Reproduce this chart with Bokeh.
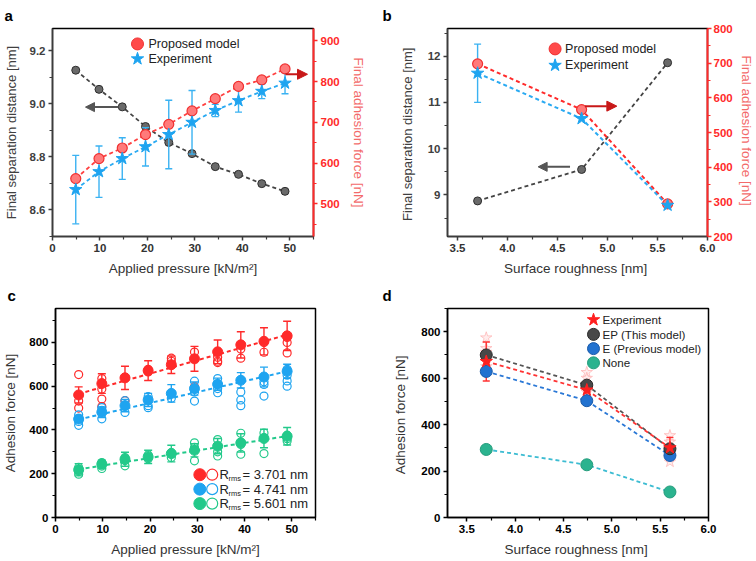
from bokeh.plotting import figure
from bokeh.models import (Range1d, LinearAxis, FixedTicker, PrintfTickFormatter,
                          Arrow, NormalHead)
from bokeh.layouts import column, row
from bokeh.embed import file_html
from bokeh.resources import INLINE
from bokeh.core.properties import value

FONT = "Liberation Sans"

# ---------------- data: panel a ----------------
a_pressure = [4.9, 9.8, 14.7, 19.6, 24.5, 29.4, 34.3, 39.2, 44.1, 49.0]
a_separation = [9.126, 9.054, 8.988, 8.914, 8.854, 8.812, 8.763, 8.734, 8.699, 8.670]
a_model = [562, 611, 637, 670, 695, 728, 758, 788, 804, 831]
a_exp = [535, 579, 611, 640, 670, 700, 729, 753, 776, 796]
a_exp_err = [84, 63, 51, 47, 84, 78, 15, 28, 18, 26]

# ---------------- data: panel b ----------------
b_rough = [3.701, 4.741, 5.601]
b_separation = [8.87, 9.55, 11.86]
b_model = [698, 566, 294]
b_exp = [671, 540, 290]
b_exp_err = [84, 0, 0]

# ---------------- data: panel c ----------------
c_pressure = [4.9, 9.8, 14.7, 19.6, 24.5, 29.4, 34.3, 39.2, 44.1, 49.0]
c_red_mean = [560, 612, 638, 671, 698, 725, 757, 789, 805, 830]
c_red_err = [37, 45, 53, 45, 40, 57, 54, 60, 62, 67]
c_red_ind = [[653, 532, 500, 452], [635, 587, 541, 507], [640, 534], [677, 665],
             [728, 714], [756, 598], [732, 714, 708], [770, 728], [800, 755],
             [823, 800, 752]]
c_blue_mean = [450, 481, 511, 537, 567, 589, 609, 627, 642, 668]
c_blue_err = [16, 24, 28, 30, 40, 30, 28, 35, 45, 32]
c_blue_ind = [[469, 439, 421], [502, 490, 451], [534, 480], [552, 511, 502],
              [567, 545], [623, 574, 532], [635, 589, 570], [574, 537, 511],
              [620, 608, 555], [677, 650, 624, 600]]
c_green_mean = [218, 244, 266, 277, 292, 307, 326, 341, 361, 371]
c_green_err = [28, 18, 32, 30, 38, 30, 35, 42, 42, 40]
c_green_ind = [[229, 210, 198], [251, 235, 224], [274, 260, 236], [286, 268],
               [296, 274], [341, 320, 259], [356, 300, 281], [385, 334, 289],
               [386, 364, 292], [376, 360, 349]]
c_red_fit = [565, 835]
c_blue_fit = [448, 668]
c_green_fit = [220, 372]
c_fit_x = [4.9, 49.0]

# ---------------- data: panel d ----------------
d_rough = [3.701, 4.741, 5.601]
d_exp = [672, 549, 300]
d_exp_err = [84, 25, 45]
d_exp_ind = [[774, 728, 712, 650], [625, 600, 575, 540], [353, 325, 260, 240]]
d_ep = [700, 570, 296]
d_e = [629, 503, 267]
d_none = [293, 227, 110]

# ---------------- ticks ----------------
p_ticks = [0, 10, 20, 30, 40, 50]
p_minor = [5, 15, 25, 35, 45, 55]
r_ticks = [3.5, 4.0, 4.5, 5.0, 5.5, 6.0]
r_minor = [3.25, 3.75, 4.25, 4.75, 5.25, 5.75]
a_sep_ticks = [8.6, 8.8, 9.0, 9.2]
a_sep_minor = [8.5, 8.7, 8.9, 9.1]
a_force_ticks = [500, 600, 700, 800, 900]
a_force_minor = [450, 550, 650, 750, 850]
b_sep_ticks = [9, 10, 11, 12]
b_sep_minor = [8.5, 9.5, 10.5, 11.5, 12.5]
b_force_ticks = [200, 300, 400, 500, 600, 700, 800]
b_force_minor = [250, 350, 450, 550, 650, 750]
c_force_ticks = [0, 200, 400, 600, 800]
c_force_minor = [100, 300, 500, 700, 900]

DARK = "#3c3c3c"
RED = "#ff2a2a"
BLUE = "#1ea4f0"
GREEN = "#22c98a"

FRAME = {}


def make_fig(xr, yr, w, h, l, r, t, b, letter):
    p = figure(width=w, height=h, x_range=Range1d(*xr), y_range=Range1d(*yr),
               output_backend="svg", toolbar_location=None,
               min_border_left=l, min_border_right=r, min_border_top=t,
               min_border_bottom=b, title=letter)
    p.title.text_font = FONT
    p.title.text_font_size = "15px"
    p.title.text_font_style = "bold"
    p.title.text_color = "black"
    p.title.align = "left"
    p.title.offset = -(l - 4)
    p.title.standoff = 9
    p.grid.visible = False
    p.outline_line_color = "black"
    p.outline_line_width = 1.5
    p.outline_line_alpha = 1
    p.background_fill_color = "white"
    p.border_fill_color = "white"
    FRAME[p.id] = (w - l - r, h - t - b)
    return p


def style_axis(ax, ticks, minor, fmt, label, color, tick_color, label_color,
               label_size="13.5px", label_standoff=6):
    ax.ticker = FixedTicker(ticks=ticks, minor_ticks=minor)
    ax.formatter = PrintfTickFormatter(format=fmt)
    ax.axis_label = label
    ax.axis_label_text_font = FONT
    ax.axis_label_text_font_size = label_size
    ax.axis_label_text_font_style = "normal"
    ax.axis_label_text_color = label_color
    ax.axis_label_standoff = label_standoff
    ax.major_label_text_font = FONT
    ax.major_label_text_font_size = "11.5px"
    ax.major_label_text_font_style = "bold"
    ax.major_label_text_color = tick_color
    ax.major_label_standoff = 3
    ax.axis_line_color = color
    ax.axis_line_width = 1.5
    ax.major_tick_line_color = color
    ax.major_tick_line_width = 1.5
    ax.major_tick_in = 0
    ax.major_tick_out = 4
    ax.minor_tick_line_color = color
    ax.minor_tick_line_width = 1.2
    ax.minor_tick_in = 0
    ax.minor_tick_out = 3


def fx(p, px):
    fw = FRAME[p.id][0]
    return p.x_range.start + px / fw * (p.x_range.end - p.x_range.start)


def fy(p, px, rng=None):
    fh = FRAME[p.id][1]
    rng = rng or p.y_range
    return rng.end - px / fh * (rng.end - rng.start)


def err_bars(p, xs, ys, errs, color, cap=7, width=1.5, **kw):
    lo = [y - e for y, e in zip(ys, errs)]
    hi = [y + e for y, e in zip(ys, errs)]
    p.segment(x0=xs, y0=lo, x1=xs, y1=hi, line_color=color, line_width=width, **kw)
    p.scatter(x=list(xs) + list(xs), y=lo + hi, marker="dash", size=cap, line_color=color,
              line_width=width, **kw)


# ================= panel a =================
pa = make_fig((0, 55), (8.5, 9.283), 378, 280, 52, 65, 27, 44, "a")
pa.extra_y_ranges = {"r": Range1d(420, 930)}
style_axis(pa.xaxis[0], p_ticks, p_minor, "%d", "Applied pressure [kN/m\u00b2]",
           DARK, "#333333", "#333333")
style_axis(pa.yaxis[0], a_sep_ticks, a_sep_minor, "%.1f", "Final separation distance [nm]",
           DARK, "#404040", "#404040", label_size="13px", label_standoff=8)
ra = LinearAxis(y_range_name="r")
pa.add_layout(ra, "right")
style_axis(ra, a_force_ticks, a_force_minor, "%d", "Final adhesion force [nN]",
           RED, RED, "#f36a6a", label_size="13.5px", label_standoff=8)
ra.axis_line_width = 2

pa.line(a_pressure, a_separation, line_color="#444444", line_width=1.8, line_dash="4 3")
pa.scatter(a_pressure, a_separation, size=8, fill_color="#6a6a6a", line_color="#2e2e2e")
pa.line(a_pressure, a_model, line_color="#ff4040", line_width=1.8, line_dash="4 3", y_range_name="r")
pa.line(a_pressure, a_exp, line_color="#2aaaf2", line_width=1.8, line_dash="4 3", y_range_name="r")
err_bars(pa, a_pressure, a_exp, a_exp_err, "#3ab2f2", cap=7, width=1.4, y_range_name="r")
pa.scatter(a_pressure, a_model, size=10, fill_color="#ff7a7a", line_color="#f03030",
           line_width=1.2, y_range_name="r")
pa.scatter(a_pressure, a_exp, marker="star", size=13, fill_color=BLUE, line_color=BLUE,
           y_range_name="r")
pa.add_layout(Arrow(end=NormalHead(size=9, fill_color="#555555", line_color="#555555"),
                    x_start=fx(pa, 66), y_start=fy(pa, 79), x_end=fx(pa, 33), y_end=fy(pa, 79),
                    line_color="#555555", line_width=2))
pa.add_layout(Arrow(end=NormalHead(size=10, fill_color="#c81818", line_color="#c81818"),
                    x_start=fx(pa, 233), y_start=fy(pa, 46), x_end=fx(pa, 255), y_end=fy(pa, 46),
                    line_color="#c81818", line_width=2))
# legend a
pa.scatter([fx(pa, 85)], [fy(pa, 15.5)], size=12, fill_color="#ff4a4a", line_color="#f03030")
pa.scatter([fx(pa, 85)], [fy(pa, 30.5)], marker="star", size=13, fill_color=BLUE, line_color=BLUE)
pa.text(x=[fx(pa, 96)] * 2, y=[fy(pa, 15.5), fy(pa, 30.5)], text=["Proposed model", "Experiment"],
        text_font=value(FONT), text_font_size="12.5px", text_baseline="middle",
        text_color="#222222")

# ================= panel b =================
pb = make_fig((3.4, 6.0), (8.1, 12.6), 378, 280, 69, 48, 27, 44, "b")
pb.extra_y_ranges = {"r": Range1d(200, 800)}
style_axis(pb.xaxis[0], r_ticks, r_minor, "%.1f", "Surface roughness  [nm]",
           DARK, "#333333", "#333333")
style_axis(pb.yaxis[0], b_sep_ticks, b_sep_minor, "%d", "Final separation  distance [nm]",
           DARK, "#404040", "#404040", label_size="13px", label_standoff=10)
rb = LinearAxis(y_range_name="r")
pb.add_layout(rb, "right")
style_axis(rb, b_force_ticks, b_force_minor, "%d", "Final adhesion  force [nN]",
           RED, RED, "#f36a6a", label_size="13.5px", label_standoff=3)
rb.major_label_standoff = 2
rb.axis_line_width = 2

pb.line(b_rough, b_separation, line_color="#444444", line_width=1.8, line_dash="4 3")
pb.scatter(b_rough, b_separation, size=8, fill_color="#6a6a6a", line_color="#2e2e2e")
pb.line(b_rough, b_model, line_color="#ff2a2a", line_width=2, line_dash="4 3", y_range_name="r")
pb.line(b_rough, b_exp, line_color="#2aaaf2", line_width=2, line_dash="4 3", y_range_name="r")
err_bars(pb, b_rough[:1], b_exp[:1], b_exp_err[:1], "#3ab2f2", cap=7, width=1.4, y_range_name="r")
pb.scatter(b_rough, b_model, size=10, fill_color="#ff7a7a", line_color="#f03030",
           line_width=1.2, y_range_name="r")
pb.scatter(b_rough, b_exp, marker="star", size=13, fill_color=BLUE, line_color=BLUE,
           y_range_name="r")
pb.add_layout(Arrow(end=NormalHead(size=9, fill_color="#555555", line_color="#555555"),
                    x_start=fx(pb, 123), y_start=fy(pb, 139), x_end=fx(pb, 91), y_end=fy(pb, 139),
                    line_color="#555555", line_width=2))
pb.add_layout(Arrow(end=NormalHead(size=10, fill_color="#c81818", line_color="#c81818"),
                    x_start=fx(pb, 138), y_start=fy(pb, 78), x_end=fx(pb, 170), y_end=fy(pb, 78),
                    line_color="#c81818", line_width=2))
pb.scatter([fx(pb, 108)], [fy(pb, 20.5)], size=12, fill_color="#ff4a4a", line_color="#f03030")
pb.scatter([fx(pb, 108)], [fy(pb, 37)], marker="star", size=13, fill_color=BLUE, line_color=BLUE)
pb.text(x=[fx(pb, 118)] * 2, y=[fy(pb, 20.5), fy(pb, 37)], text=["Proposed model", "Experiment"],
        text_font=value(FONT), text_font_size="12.5px", text_baseline="middle",
        text_color="#222222")

# ================= panel c =================
pc = make_fig((0, 55), (0, 955), 378, 281, 52, 63, 27, 44, "c")
style_axis(pc.xaxis[0], p_ticks, p_minor, "%d", "Applied pressure [kN/m\u00b2]",
           "black", "black", "#333333")
style_axis(pc.yaxis[0], c_force_ticks, c_force_minor, "%d", "Adhesion force [nN]",
           "black", "black", "#333333", label_standoff=8)

for mean, err, ind, fit, col in [(c_red_mean, c_red_err, c_red_ind, c_red_fit, RED),
                                 (c_blue_mean, c_blue_err, c_blue_ind, c_blue_fit, BLUE),
                                 (c_green_mean, c_green_err, c_green_ind, c_green_fit, GREEN)]:
    xs, ys = [], []
    for xp, vals in zip(c_pressure, ind):
        xs += [xp] * len(vals)
        ys += vals
    pc.scatter(xs, ys, size=8, fill_color=None, line_color=col, line_width=1.2)
    pc.line(c_fit_x, fit, line_color=col, line_width=2, line_dash="4 3")
    err_bars(pc, c_pressure, mean, err, col, cap=8, width=1.4)
    pc.scatter(c_pressure, mean, size=10, fill_color=col, line_color=col)

leg_rows = [(167, RED, "3.701 nm"), (181.5, BLUE, "4.741 nm"), (196, GREEN, "5.601 nm")]
for ry, col, txt in leg_rows:
    pc.scatter([fx(pc, 146)], [fy(pc, ry)], size=12, fill_color=col, line_color=col)
    pc.scatter([fx(pc, 158.5)], [fy(pc, ry)], size=11, fill_color=None, line_color=col,
               line_width=1.2)
    pc.text(x=[fx(pc, 166)], y=[fy(pc, ry)], text=["R"], text_font=value(FONT),
            text_font_size="13px", text_baseline="middle", text_color="#222222")
    pc.text(x=[fx(pc, 166)], y=[fy(pc, ry)], text=["rms"], x_offset=9, y_offset=4,
            text_font=value(FONT), text_font_size="7.5px", text_baseline="middle",
            text_color="#222222")
    pc.text(x=[fx(pc, 166)], y=[fy(pc, ry)], text=["= " + txt], x_offset=23,
            text_font=value(FONT), text_font_size="13px", text_baseline="middle",
            text_color="#222222")

# ================= panel d =================
pd_ = make_fig((3.3, 6.0), (0, 900), 378, 281, 69, 48, 27, 44, "d")
style_axis(pd_.xaxis[0], r_ticks, r_minor, "%.1f", "Surface roughness  [nm]",
           "black", "black", "#333333")
style_axis(pd_.yaxis[0], c_force_ticks, c_force_minor, "%d", "Adhesion  force [nN]",
           "black", "black", "#333333", label_standoff=10)

xs, ys = [], []
for xr_, vals in zip(d_rough, d_exp_ind):
    xs += [xr_] * len(vals)
    ys += vals
pd_.scatter(xs, ys, marker="star", size=12, fill_color="#ffe6e6", line_color="#ffb0b0",
            alpha=0.7)
pd_.line(d_rough, d_ep, line_color="#555555", line_width=1.8, line_dash="4 3")
pd_.line(d_rough, d_exp, line_color="#ff3333", line_width=1.8, line_dash="4 3")
pd_.line(d_rough, d_e, line_color="#2a78d6", line_width=1.8, line_dash="4 3")
pd_.line(d_rough, d_none, line_color="#3cbcd2", line_width=1.8, line_dash="4 3")
err_bars(pd_, d_rough, d_exp, d_exp_err, "#ff3030", cap=7, width=1.4)
pd_.scatter(d_rough, d_none, size=12, fill_color="#2bb38f", line_color="#249c7c")
pd_.scatter(d_rough, d_e, size=12, fill_color="#2272d0", line_color="#1a5aa8")
pd_.scatter(d_rough, d_ep, size=12, fill_color="#484848", line_color="#2a2a2a")
pd_.scatter(d_rough, d_exp, marker="star", size=13, fill_color="#ff2020", line_color="#ff2020")

d_leg = [(11.3, "Experiment"), (26, "EP (This model)"), (40.3, "E (Previous model)"), (54.6, "None")]
pd_.scatter([fx(pd_, 146)], [fy(pd_, 11.3)], marker="star", size=13, fill_color="#ff2020",
            line_color="#ff2020")
pd_.scatter([fx(pd_, 146)], [fy(pd_, 26)], size=12, fill_color="#484848", line_color="#2a2a2a")
pd_.scatter([fx(pd_, 146)], [fy(pd_, 40.3)], size=12, fill_color="#2272d0", line_color="#1a5aa8")
pd_.scatter([fx(pd_, 146)], [fy(pd_, 54.6)], size=12, fill_color="#2bb38f", line_color="#249c7c")
pd_.text(x=[fx(pd_, 155)] * 4, y=[fy(pd_, r_[0]) for r_ in d_leg], text=[r_[1] for r_ in d_leg],
         text_font=value(FONT), text_font_size="11.6px", text_baseline="middle",
         text_color="#222222")

layout = column(row(pa, pb), row(pc, pd_))
open("out.html", "w").write(file_html(layout, INLINE))
